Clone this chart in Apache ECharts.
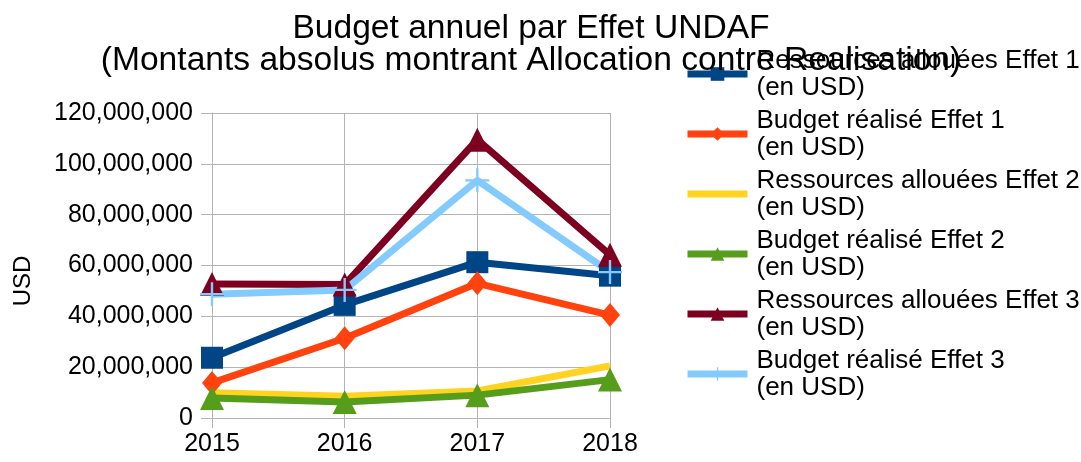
<!DOCTYPE html>
<html>
<head>
<meta charset="utf-8">
<script src="https://cdn.jsdelivr.net/npm/echarts@6/dist/echarts.min.js"></script>
<style>html,body{margin:0;padding:0;background:#fff;}#c{width:1081px;height:462px;}</style>
</head>
<body>
<div id="c"></div>
<script>
const years = ['2015', '2016', '2017', '2018'];
const seriesNames = [
  'Ressources allouées Effet 1\n(en USD)',
  'Budget réalisé Effet 1\n(en USD)',
  'Ressources allouées Effet 2\n(en USD)',
  'Budget réalisé Effet 2\n(en USD)',
  'Ressources allouées Effet 3\n(en USD)',
  'Budget réalisé Effet 3\n(en USD)'
];
const allocEffet1 = [23700000, 44500000, 61300000, 56000000];
const realEffet1 = [13800000, 31400000, 53000000, 40500000];
const allocEffet2 = [9900000, 8600000, 10600000, 20500000];
const realEffet2 = [7900000, 6300000, 9000000, 15100000];
const allocEffet3 = [52700000, 52500000, 109500000, 64200000];
const realEffet3 = [48700000, 50400000, 93500000, 57400000];
const yTicks = { min: 0, max: 120000000, interval: 20000000 };

const colors = ['#004586', '#ff420e', '#ffd320', '#579d1c', '#7e0021', '#83caff'];
const symbols = ['rect', 'diamond', 'none', 'triangle', 'triangle',
  'path://M4.5,0H5.5V4.5H10V5.5H5.5V10H4.5V5.5H0V4.5H4.5Z'];
const symSizes = [22, [20, 24], 0, 24, 24, 24];
const dataSets = [allocEffet1, realEffet1, allocEffet2, realEffet2, allocEffet3, realEffet3];

function fmt(v) { return String(v).replace(/\B(?=(\d{3})+(?!\d))/g, ','); }

const FONT = 'Liberation Sans';
const chart = echarts.init(document.getElementById('c'), null, { renderer: 'canvas' });
chart.setOption({
  animation: false,
  backgroundColor: '#ffffff',
  color: colors,
  title: {
    text: 'Budget annuel par Effet UNDAF\n(Montants absolus montrant Allocation contre Realisation)',
    left: 526, top: 8, textAlign: 'center',
    textStyle: { fontFamily: FONT, fontSize: 33.6, lineHeight: 32, fontWeight: 'normal', color: '#000' }
  },
  legend: {
    orient: 'vertical', left: 684, top: 47, padding: 0,
    itemWidth: 60, itemHeight: 17, itemGap: 6,
    lineStyle: { width: 7 },
    data: seriesNames.map((n, i) => symbols[i] === 'none'
      ? { name: n, icon: 'path://M0,0H60V7H0Z' }
      : { name: n }),
    textStyle: { fontFamily: FONT, fontSize: 26, lineHeight: 27, color: '#000', padding: [0, 0, 0, 4] }
  },
  grid: { left: 212, right: 471, top: 113, bottom: 44, containLabel: false },
  xAxis: {
    type: 'category', data: years, boundaryGap: false,
    axisLine: { show: true, lineStyle: { color: '#b3b3b3', width: 1 } },
    axisTick: { show: true, length: 10, alignWithLabel: true, lineStyle: { color: '#b3b3b3' } },
    splitLine: { show: true, lineStyle: { color: '#b3b3b3', width: 1 } },
    axisLabel: { fontFamily: FONT, fontSize: 25, color: '#000', margin: 14 }
  },
  yAxis: {
    type: 'value', min: yTicks.min, max: yTicks.max, interval: yTicks.interval,
    name: 'USD', nameLocation: 'middle', nameRotate: 90, nameGap: 177,
    nameTextStyle: { fontFamily: FONT, fontSize: 24, color: '#000', padding: [0, 31, 0, 0] },
    axisLine: { show: true, lineStyle: { color: '#b3b3b3', width: 1 } },
    axisTick: { show: true, length: 11, lineStyle: { color: '#b3b3b3' } },
    splitLine: { show: true, lineStyle: { color: '#b3b3b3', width: 1 } },
    axisLabel: { fontFamily: FONT, fontSize: 25, color: '#000', margin: 19, formatter: fmt }
  },
  series: dataSets.map((d, i) => ({
    name: seriesNames[i], type: 'line', data: d,
    symbol: symbols[i], symbolSize: symSizes[i], showSymbol: symbols[i] !== 'none',
    lineStyle: { width: 7, color: colors[i] },
    itemStyle: { color: colors[i], borderWidth: 0 },
    emphasis: { disabled: true }
  }))
});
</script>
</body>
</html>
